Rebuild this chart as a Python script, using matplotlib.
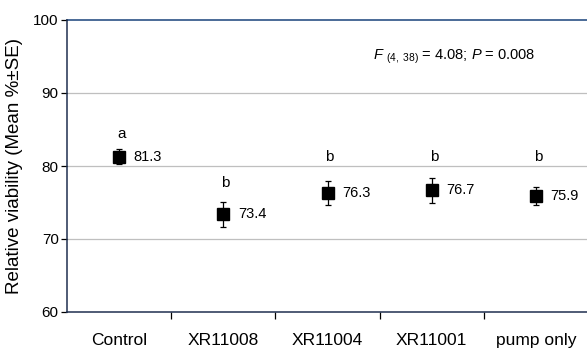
import matplotlib
matplotlib.use('Agg')
import matplotlib.pyplot as plt
import numpy as np

plt.rcParams['font.family'] = ['Liberation Sans', 'DejaVu Sans']
plt.rcParams['mathtext.fontset'] = 'custom'
plt.rcParams['mathtext.rm'] = 'Liberation Sans'
plt.rcParams['mathtext.it'] = 'Liberation Sans:italic'

groups = ['Control', 'XR11008', 'XR11004', 'XR11001', 'pump only']
means = [81.3, 73.4, 76.3, 76.7, 75.9]
se = [1.0, 1.7, 1.7, 1.7, 1.2]
letters = ['a', 'b', 'b', 'b', 'b']
letter_y = [84.4, 77.7, 81.2, 81.2, 81.2]
stats_text = r'$F$ $_{(4,\ 38)}$ = 4.08; $P$ = 0.008'

fig = plt.figure(figsize=(5.87, 3.49), dpi=100)
ax = fig.add_axes([67/587, 1-312/349, 521/587, 292/349])

x = np.arange(len(groups))
ax.errorbar(x, means, yerr=se, fmt='s', color='black', ms=9, mec='black',
            ecolor='black', elinewidth=0.9, capsize=2.5, capthick=0.9, zorder=5)

for i, (m, l, ly) in enumerate(zip(means, letters, letter_y)):
    ax.text(i + 0.14, m, '%.1f' % m, fontsize=10.5, va='center', ha='left')
    ax.text(i + 0.02, ly, l, fontsize=11, ha='center', va='center')

ax.text(2.44, 95.0, stats_text, fontsize=10.5, ha='left', va='center')

ax.set_xlim(-0.5, 4.5)
ax.set_ylim(60, 100)
ax.set_yticks([60, 70, 80, 90, 100])
ax.tick_params(axis='y', labelsize=11, length=4, width=0.9, direction='out', pad=2)
ax.set_xticks(x)
ax.set_xticklabels(groups, fontsize=12.5)
ax.tick_params(axis='x', length=0, pad=15)
ax.set_xticks(np.arange(0.5, 4.5, 1), minor=True)
ax.tick_params(axis='x', which='minor', length=5, width=0.9, direction='out')

for yv in [70, 80, 90]:
    ax.axhline(yv, color='#bfbfbf', lw=0.9, zorder=0)
ax.axhline(100, color='#3b5f8f', lw=1.3, zorder=1, clip_on=False)

ax.spines['top'].set_visible(False)
ax.spines['right'].set_visible(False)
ax.spines['left'].set_color('#1f2f4f')
ax.spines['bottom'].set_color('#1f2f4f')
ax.spines['left'].set_linewidth(1.1)
ax.spines['bottom'].set_linewidth(1.1)

ax.set_ylabel('Relative viability (Mean %\u00b1SE)', fontsize=13.5, labelpad=7)

fig.savefig('out.png', dpi=100)
